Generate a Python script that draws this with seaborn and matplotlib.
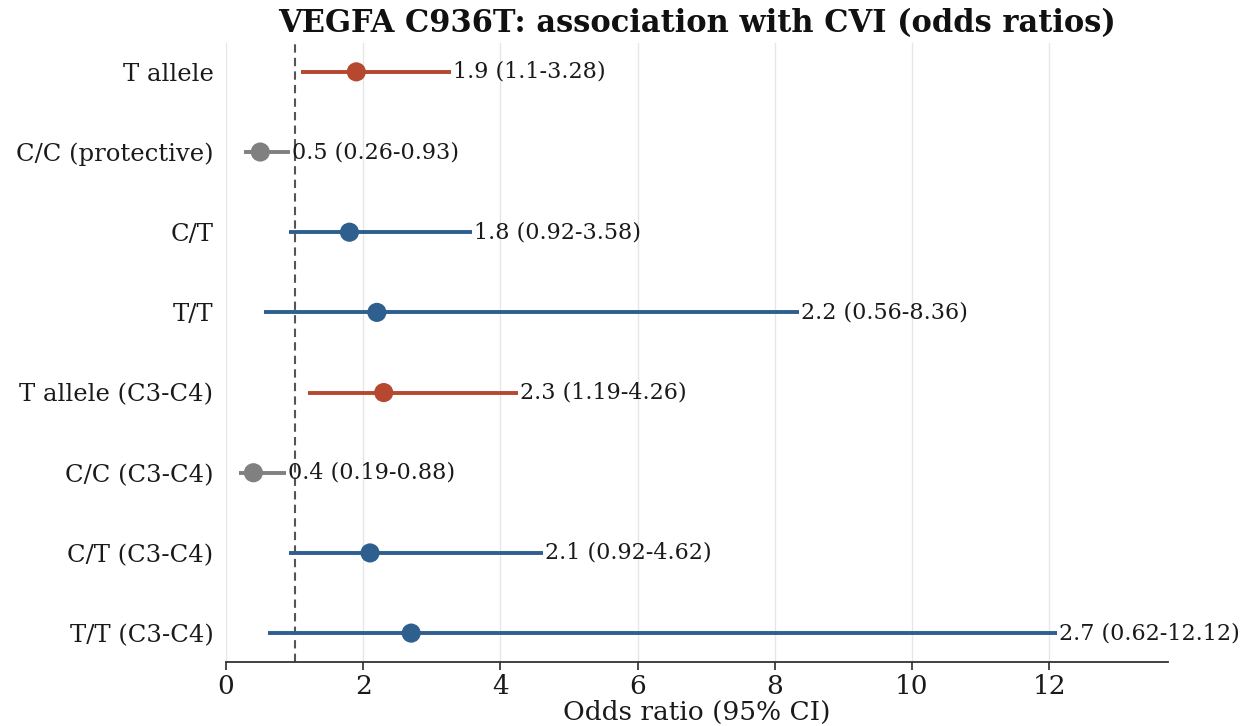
import matplotlib
matplotlib.use("Agg")
import matplotlib.pyplot as plt
import seaborn as sns
import pandas as pd

labels = ["T allele", "C/C (protective)", "C/T", "T/T",
          "T allele (C3-C4)", "C/C (C3-C4)", "C/T (C3-C4)", "T/T (C3-C4)"]
odds = [1.9, 0.5, 1.8, 2.2, 2.3, 0.4, 2.1, 2.7]
ci_low = [1.1, 0.26, 0.92, 0.56, 1.19, 0.19, 0.92, 0.62]
ci_high = [3.28, 0.93, 3.58, 8.36, 4.26, 0.88, 4.62, 12.12]
kinds = ["allele", "protective", "genotype", "genotype",
         "allele", "protective", "genotype", "genotype"]
palette = {"allele": "#b5482f", "protective": "#808080", "genotype": "#2e5f8f"}

df = pd.DataFrame({"label": labels, "OR": odds, "lo": ci_low, "hi": ci_high, "kind": kinds})
df["pos"] = range(len(df))

sns.set_theme(style="whitegrid")
plt.rcParams["font.family"] = ["DejaVu Serif"]

fig, ax = plt.subplots(figsize=(12.45, 7.26), dpi=100)
fig.subplots_adjust(left=0.1815, right=0.938, top=0.9408, bottom=0.0882)

for _, r in df.iterrows():
    ax.hlines(r["pos"], r["lo"], r["hi"], color=palette[r["kind"]], lw=2.8, zorder=2)
sns.scatterplot(data=df, x="OR", y="pos", hue="kind", palette=palette, s=190,
                edgecolor="none", legend=False, ax=ax, zorder=3)
for _, r in df.iterrows():
    ax.text(r["hi"] + 0.03, r["pos"], f"{r['OR']} ({r['lo']}-{r['hi']})",
            va="center", ha="left", fontsize=16, color="#1a1a1a")

ax.axvline(1, color="#555555", ls=(0, (4, 2.5)), lw=1.5, zorder=1)
ax.set_yticks(df["pos"])
ax.set_yticklabels(labels, fontsize=17.5, color="#1a1a1a")
ax.set_ylim(len(df) - 1 + 0.36, -0.36)
ax.set_xlim(0, 13.73)
ax.set_xticks(range(0, 13, 2))
ax.tick_params(axis="x", labelsize=19, labelcolor="#1a1a1a", bottom=True, length=6,
               color="#333333", pad=3)
ax.tick_params(axis="y", left=False, pad=3)
ax.grid(axis="y", visible=False)
ax.grid(axis="x", color="#e6e6e6", lw=1)
for s in ["left", "top", "right"]:
    ax.spines[s].set_visible(False)
ax.spines["bottom"].set_color("#333333")
ax.spines["bottom"].set_linewidth(1.3)
ax.set_xlabel("Odds ratio (95% CI)", fontsize=19, color="#1a1a1a", labelpad=0)
ax.set_ylabel("")
ax.set_title("VEGFA C936T: association with CVI (odds ratios)", fontsize=22,
             fontweight="bold", pad=8, color="#111111")

fig.savefig("out.png", dpi=100)
